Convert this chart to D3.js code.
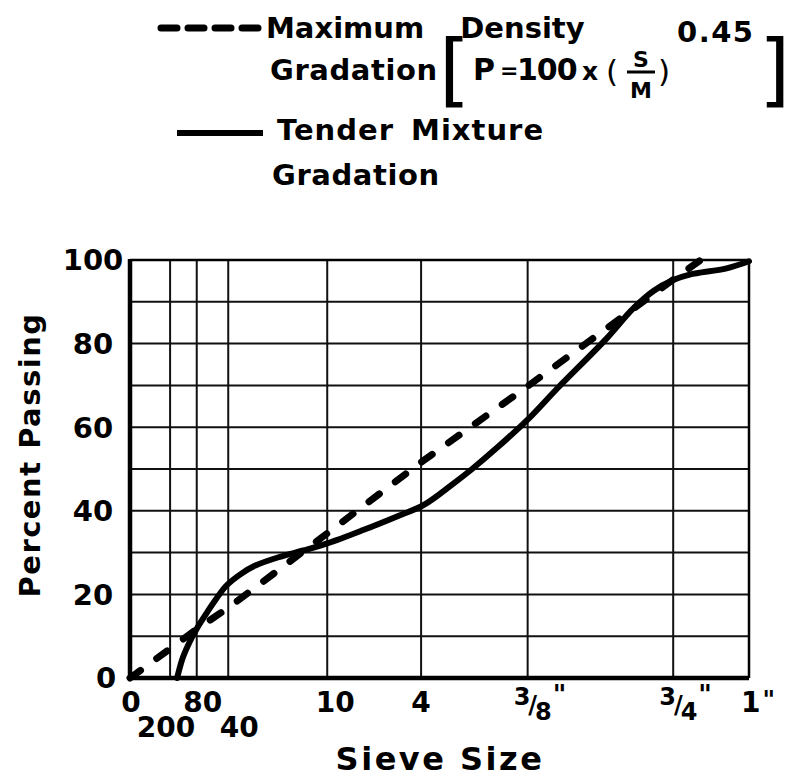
<!DOCTYPE html>
<html>
<head>
<meta charset="utf-8">
<script src="https://cdn.jsdelivr.net/npm/d3@7"></script>
<style>
  body { margin: 0; background: #fff; overflow: hidden; }
  svg { display: block; }
  svg text { font-family: "DejaVu Sans", sans-serif; fill: #000; }
</style>
</head>
<body>
<div id="chart"></div>
<script>
// sieve openings in mm, placed on a 0.45 power scale
var sieveSizes  = [0, 0.058, 0.18, 0.425, 2.0, 4.75, 9.5, 19.0, 25.4];
var sieveLabels = ['0', '200', '80', '40', '10', '4', '3/8', '3/4', '1'];
var yTicks = [0, 20, 40, 60, 80, 100];
var yGrid  = [10, 20, 30, 40, 50, 60, 70, 80, 90];

// maximum density line (straight on this scale)
var maxSize    = [0, 0.058, 0.18, 0.425, 2.0, 4.75, 9.5, 19.0, 21.2];
var maxPassing = [0, 7, 11.7, 16.8, 34.6, 51.6, 69.8, 95.3, 100];

// tender mixture curve
var tenderSize    = [0.083, 0.108, 0.142, 0.18, 0.25, 0.32, 0.40, 0.55, 0.73, 1.09, 1.5, 2.0, 2.9, 3.9, 4.85, 6.0, 6.8, 8.0, 9.5, 11.2, 14.2, 16.0, 17.5, 19.0, 20.3, 23.4, 25.4];
var tenderPassing = [0, 5, 8.8, 11.8, 15.8, 19, 21.9, 24.8, 26.9, 29, 30.5, 32.2, 35.4, 38.6, 41.4, 46.5, 50, 55.3, 61.8, 69.5, 81.2, 88.3, 92.6, 95.2, 96.5, 98, 99.7];

var svg = d3.select('#chart').append('svg')
    .attr('width', 801)
    .attr('height', 783);

var x = d3.scalePow().exponent(0.45)
    .domain([0, 25.4])
    .range([130, 749]);

var y = d3.scaleLinear()
    .domain([0, 100])
    .range([678, 260]);

// grid
svg.append('g').selectAll('line')
    .data(yGrid).enter().append('line')
    .attr('x1', x(0)).attr('x2', x(25.4))
    .attr('y1', function (d) { return y(d); })
    .attr('y2', function (d) { return y(d); })
    .attr('stroke', '#111').attr('stroke-width', 2);

svg.append('g').selectAll('line')
    .data(sieveSizes.slice(1, -1)).enter().append('line')
    .attr('x1', function (d) { return x(d); })
    .attr('x2', function (d) { return x(d); })
    .attr('y1', y(0)).attr('y2', y(100))
    .attr('stroke', '#111').attr('stroke-width', 2);

// frame
svg.append('line').attr('x1', x(0)).attr('x2', x(25.4)).attr('y1', y(100)).attr('y2', y(100))
    .attr('stroke', '#000').attr('stroke-width', 2.5);
svg.append('line').attr('x1', x(25.4)).attr('x2', x(25.4)).attr('y1', y(0)).attr('y2', y(100))
    .attr('stroke', '#000').attr('stroke-width', 2.5);
svg.append('line').attr('x1', x(0)).attr('x2', x(0)).attr('y1', y(0) + 2).attr('y2', y(100) - 1)
    .attr('stroke', '#000').attr('stroke-width', 4.5);
svg.append('line').attr('x1', x(0) - 2).attr('x2', x(25.4)).attr('y1', y(0)).attr('y2', y(0))
    .attr('stroke', '#000').attr('stroke-width', 4.5);

// lines
var line = d3.line()
    .x(function (d) { return x(d[0]); })
    .y(function (d) { return y(d[1]); });

svg.append('path')
    .datum(d3.zip(maxSize, maxPassing))
    .attr('d', line)
    .attr('fill', 'none').attr('stroke', '#000')
    .attr('stroke-width', 7).attr('stroke-linecap', 'round')
    .attr('stroke-dasharray', '13 20');

svg.append('path')
    .datum(d3.zip(tenderSize, tenderPassing))
    .attr('d', line.curve(d3.curveCatmullRom))
    .attr('fill', 'none').attr('stroke', '#000')
    .attr('stroke-width', 6).attr('stroke-linecap', 'round')
    .attr('stroke-linejoin', 'round');

// bold text helper
function txt(g, s, tx, ty, size) {
    return g.append('text').attr('x', tx).attr('y', ty)
        .attr('font-size', size).style('font-weight', 'bold').text(s);
}

// y tick labels
svg.append('g').selectAll('text')
    .data(yTicks).enter().append('text')
    .attr('x', function (d) { return d === 0 ? 106 : 93; })
    .attr('y', function (d) { return y(d); })
    .attr('dy', '0.36em')
    .attr('text-anchor', 'middle')
    .attr('font-size', 29)
    .style('font-weight', 'bold')
    .text(function (d) { return d; });

txt(svg, 'Percent Passing', 0, 0, 29)
    .attr('transform', 'translate(40,455) rotate(-90)')
    .attr('text-anchor', 'middle')
    .attr('letter-spacing', 1.5);

// x tick labels
var labelDx  = [1, -4, 6, 11, 8, 0, 0, 0, 0];
var labelRow = [0, 1, 0, 1, 0, 0, 0, 0, 0];
var xl = svg.append('g').selectAll('text')
    .data(sieveSizes).enter().append('text')
    .attr('x', function (d, i) { return x(d) + labelDx[i]; })
    .attr('y', function (d, i) { return labelRow[i] ? 737 : 712; })
    .attr('font-size', 28)
    .style('font-weight', 'bold');

xl.each(function (d, i) {
    var t = d3.select(this), lab = sieveLabels[i];
    if (lab.indexOf('/') > 0) {
        var parts = lab.split('/');
        t.attr('text-anchor', 'start').attr('x', x(d) - 14);
        t.append('tspan').attr('font-size', 24).attr('dy', -7).text(parts[0]);
        t.append('tspan').attr('font-size', 24).attr('dy', 8).attr('dx', -2).text('/');
        t.append('tspan').attr('font-size', 24).attr('dy', 7).attr('dx', -2).text(parts[1]);
        t.append('tspan').attr('font-size', 26).attr('dy', -16).attr('dx', 1).text('"');
    } else if (i === sieveSizes.length - 1) {
        t.attr('text-anchor', 'start').attr('x', x(d) - 8);
        t.append('tspan').text(lab);
        t.append('tspan').attr('font-size', 24).attr('dy', -4).attr('dx', 2).text('"');
    } else {
        t.attr('text-anchor', 'middle').text(lab);
    }
});

txt(svg, 'Sieve Size', 440, 770, 32)
    .attr('text-anchor', 'middle')
    .attr('letter-spacing', 2.5);

// legend
svg.append('line')
    .attr('x1', 161).attr('x2', 260).attr('y1', 28).attr('y2', 28)
    .attr('stroke', '#000').attr('stroke-width', 7)
    .attr('stroke-linecap', 'round').attr('stroke-dasharray', '16 11');

svg.append('line')
    .attr('x1', 177).attr('x2', 263).attr('y1', 133).attr('y2', 133)
    .attr('stroke', '#000').attr('stroke-width', 6);

txt(svg, 'Maximum Density', 266, 38, 29).attr('word-spacing', 26);
txt(svg, 'Gradation', 270, 80, 29).attr('letter-spacing', 0.6);
txt(svg, 'Tender Mixture', 277, 140, 29).attr('word-spacing', 6).attr('letter-spacing', 1);
txt(svg, 'Gradation', 272, 185, 29).attr('letter-spacing', 0.6);

// formula  [ P = 100 x (S/M)^0.45 ]
function plain(s, tx, ty, size) {
    return svg.append('text').attr('x', tx).attr('y', ty)
        .attr('font-size', size).style('font-weight', 'normal').text(s);
}
plain('[', 439, 97, 80);
plain(']', 759, 97, 80);
txt(svg, 'P', 473, 80, 30);
txt(svg, '=', 500, 78, 22);
txt(svg, '100', 517, 80, 30).attr('letter-spacing', -1);
txt(svg, 'x', 582, 80, 25);
plain('(', 606, 82, 31);
plain(')', 658, 82, 31);
txt(svg, 'S', 641, 67, 22).attr('text-anchor', 'middle');
svg.append('line').attr('x1', 627).attr('x2', 655).attr('y1', 72).attr('y2', 72)
    .attr('stroke', '#000').attr('stroke-width', 3);
txt(svg, 'M', 641, 98, 22).attr('text-anchor', 'middle');
txt(svg, '0.45', 677, 42, 29).attr('letter-spacing', 1.5);
</script>
</body>
</html>
